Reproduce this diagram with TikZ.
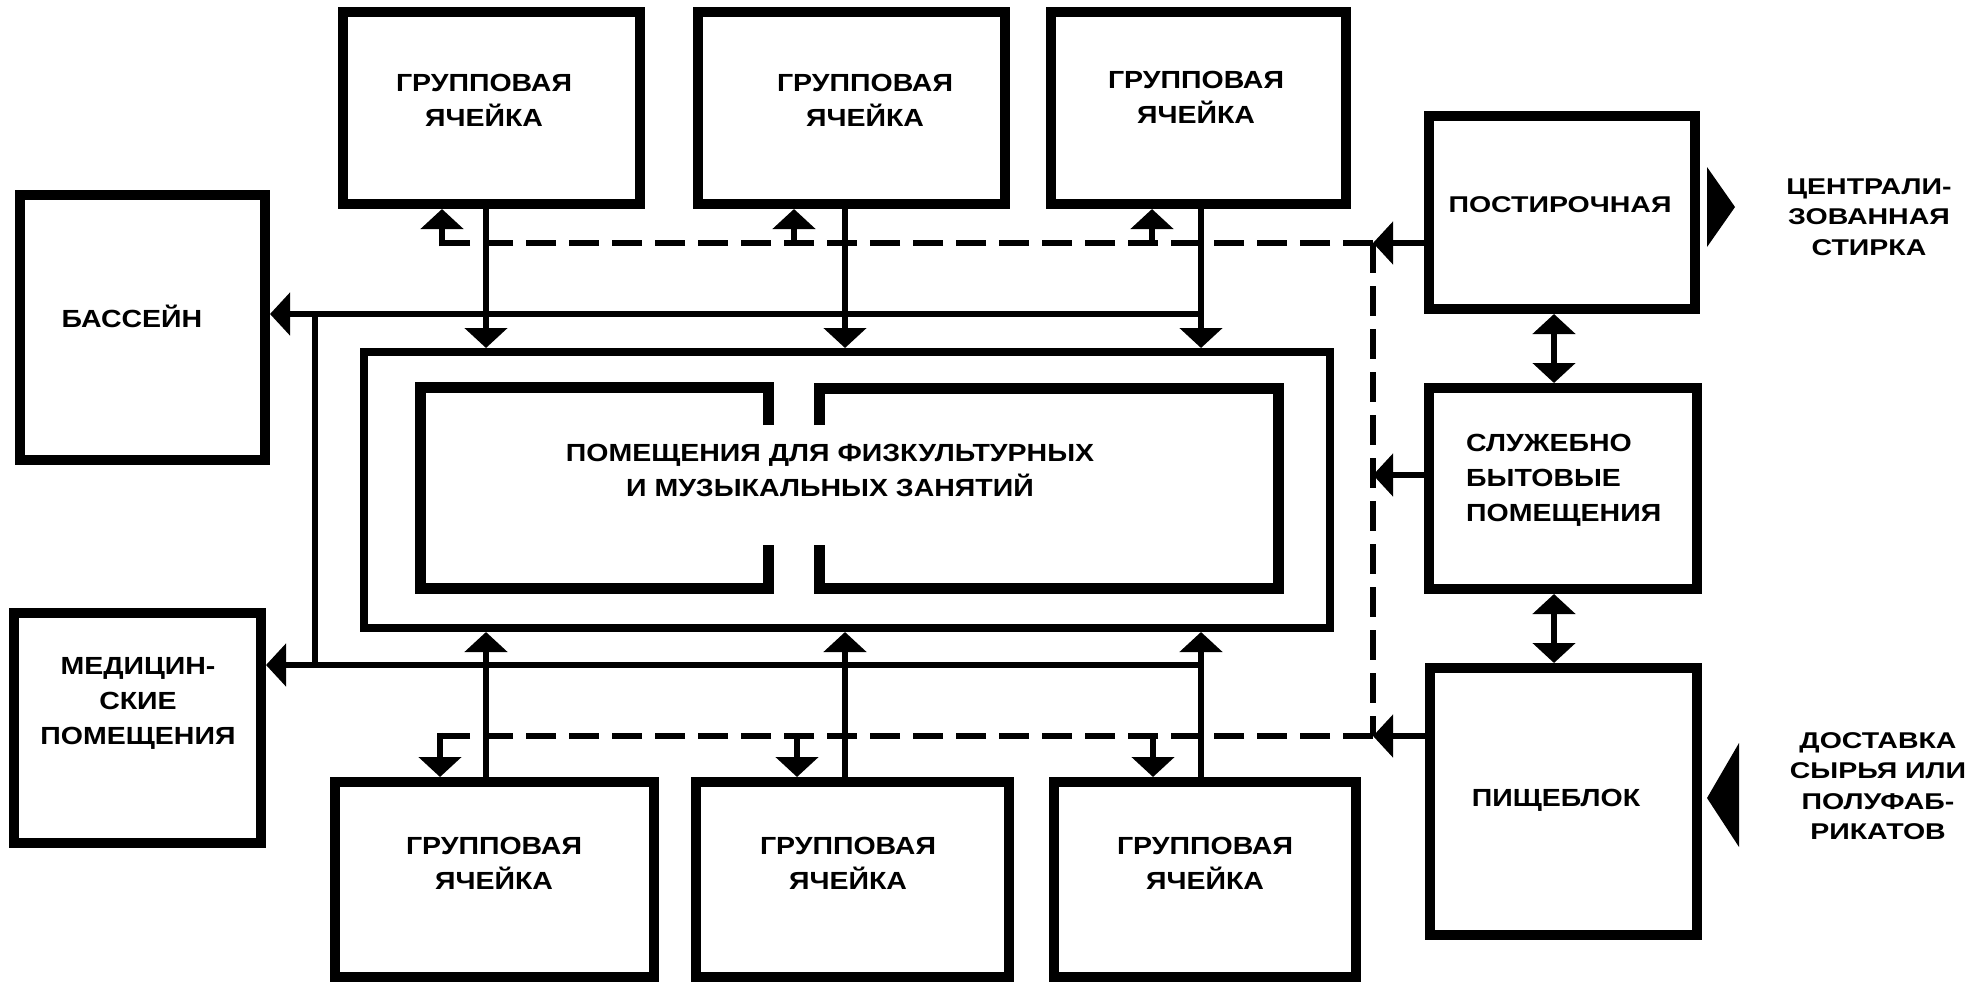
\documentclass[tikz,border=0pt]{standalone}
\usepackage{fontspec}
\setmainfont{Liberation Sans}
\usepackage{graphicx}
\usetikzlibrary{arrows.meta,calc}
\newcommand\sqz[1]{\scalebox{1}[0.87]{#1}}
\newcommand\sqa[1]{\scalebox{1}[0.8]{#1}}
\begin{document}
\begin{tikzpicture}[x=1pt,y=-1pt,
  box/.style={draw,line width=10pt,inner sep=0pt,rectangle},
  lbl/.style={font=\bfseries\fontsize{28.5}{35}\selectfont,align=center,inner sep=0pt},
  note/.style={font=\bfseries\fontsize{28.5}{30.5}\selectfont,align=center,inner sep=0pt},
  conn/.style={line width=6.5pt},
  dconn/.style={line width=6.5pt,dash pattern=on 30pt off 13pt},
  roomwall/.style={line width=11pt,line join=miter},
  arrowend/.style={-{Triangle[length=20pt,width=42pt]}},
  arrowboth/.style={{Triangle[length=20pt,width=42pt]}-{Triangle[length=20pt,width=42pt]}}
]
\useasboundingbox (0,0) rectangle (1975,985);
\fill[white] (0,0) rectangle (1975,985);

% helper coordinates
\coordinate (v1) at (486,0);
\coordinate (v2) at (845,0);
\coordinate (v3) at (1201,0);
\coordinate (s1) at (442,0);
\coordinate (s2) at (794,0);
\coordinate (s3) at (1152,0);
\coordinate (r1) at (440,0);
\coordinate (r2) at (797,0);
\coordinate (r3) at (1153,0);
\coordinate (du) at (0,243);
\coordinate (dl) at (0,736);
\coordinate (dv) at (1373,0);
\coordinate (hu) at (0,314);
\coordinate (hl) at (0,665);
\coordinate (hv) at (315,0);
\coordinate (ms) at (0,475);
\coordinate (rx) at (1554,0);

% boxes
\node[box,minimum width=297pt,minimum height=192pt] (t1) at (491.5,108) {};
\node[box,minimum width=307pt,minimum height=192pt] (t2) at (851.5,108) {};
\node[box,minimum width=295pt,minimum height=192pt] (t3) at (1198.5,108) {};
\node[box,minimum width=319pt,minimum height=195pt] (b1) at (494.5,879.5) {};
\node[box,minimum width=313pt,minimum height=195pt] (b2) at (852.5,879.5) {};
\node[box,minimum width=302pt,minimum height=195pt] (b3) at (1205,879.5) {};
\node[box,minimum width=245pt,minimum height=265pt] (bas) at (142.5,327.5) {};
\node[box,minimum width=247pt,minimum height=230pt] (med) at (137.5,728) {};
\node[box,line width=8pt,minimum width=966pt,minimum height=276pt] (outer) at (847,490) {};
\node[box,minimum width=266pt,minimum height=193pt] (post) at (1562,212.5) {};
\node[box,minimum width=268pt,minimum height=201pt] (sl) at (1563,488.5) {};
\node[box,minimum width=267pt,minimum height=267pt] (pis) at (1563.5,801.5) {};

% rooms inside the hall
\draw[roomwall] (768,425) -- (768,387) -- (420,387) -- (420,588) -- (768,588) -- (768,545);
\draw[roomwall] (819,425) -- (819,388) -- (1278,388) -- (1278,588) -- (819,588) -- (819,545);

% texts
\node[lbl] (t1t) at (484,100) {\sqz{ГРУППОВАЯ}\\\sqz{ЯЧЕЙКА}};
\node[lbl] (t2t) at (865,100) {\sqz{ГРУППОВАЯ}\\\sqz{ЯЧЕЙКА}};
\node[lbl] (t3t) at (1196,97) {\sqz{ГРУППОВАЯ}\\\sqz{ЯЧЕЙКА}};
\node[lbl] (b1t) at (494,863) {\sqz{ГРУППОВАЯ}\\\sqz{ЯЧЕЙКА}};
\node[lbl] (b2t) at (848,863) {\sqz{ГРУППОВАЯ}\\\sqz{ЯЧЕЙКА}};
\node[lbl] (b3t) at (1205,863) {\sqz{ГРУППОВАЯ}\\\sqz{ЯЧЕЙКА}};
\node[lbl] (bast) at (132,316) {\sqz{БАССЕЙН}};
\node[lbl] (medt) at (138,703) {\sqz{МЕДИЦИН-}\\\sqz{СКИЕ}\\\sqz{ПОМЕЩЕНИЯ}};
\node[lbl] (innt) at (830,470) {\sqz{ПОМЕЩЕНИЯ ДЛЯ ФИЗКУЛЬТУРНЫХ}\\\sqz{И МУЗЫКАЛЬНЫХ ЗАНЯТИЙ}};
\node[lbl] (postt) at (1560,205) {\sqa{ПОСТИРОЧНАЯ}};
\node[lbl,align=left,anchor=west] (slt) at (1466,480) {\sqz{СЛУЖЕБНО}\\\sqz{БЫТОВЫЕ}\\\sqz{ПОМЕЩЕНИЯ}};
\node[lbl] (pist) at (1556,800) {\sqz{ПИЩЕБЛОК}};
\node[note] (cst) at (1869,217) {\sqa{ЦЕНТРАЛИ-}\\\sqa{ЗОВАННАЯ}\\\sqa{СТИРКА}};
\node[note] (dst) at (1878,786) {\sqa{ДОСТАВКА}\\\sqa{СЫРЬЯ ИЛИ}\\\sqa{ПОЛУФАБ-}\\\sqa{РИКАТОВ}};

% solid connectors between cells and hall
\draw[conn,arrowend] (t1.south -| v1) -- (outer.north -| v1);
\draw[conn,arrowend] (t2.south -| v2) -- (outer.north -| v2);
\draw[conn,arrowend] (t3.south -| v3) -- (outer.north -| v3);
\draw[conn,arrowend] (b1.north -| v1) -- (outer.south -| v1);
\draw[conn,arrowend] (b2.north -| v2) -- (outer.south -| v2);
\draw[conn,arrowend] (b3.north -| v3) -- (outer.south -| v3);

% corridors to pool and medical rooms
\draw[conn,arrowend] (v3 |- hu) -- (bas.east |- hu);
\draw[conn,arrowend] (v3 |- hl) -- (med.east |- hl);
\draw[conn] (hv |- hu) -- (hv |- hl);

% dashed service lines
\draw[dconn] (dv |- du) -- (s1 |- du);
\draw[dconn] (dv |- du) -- (dv |- dl);
\draw[dconn] (dv |- dl) -- (r1 |- dl);
\draw[conn,arrowend,shorten <=-3.25pt] (s1 |- du) -- (s1 |- t1.south);
\draw[conn,arrowend] (s2 |- du) -- (s2 |- t2.south);
\draw[conn,arrowend] (s3 |- du) -- (s3 |- t3.south);
\draw[conn,arrowend,shorten <=-3.25pt] (r1 |- dl) -- (r1 |- b1.north);
\draw[conn,arrowend] (r2 |- dl) -- (r2 |- b2.north);
\draw[conn,arrowend] (r3 |- dl) -- (r3 |- b3.north);

% service block connectors
\draw[conn,arrowend] (post.west |- du) -- (dv |- du);
\draw[conn,arrowend] (sl.west |- ms) -- (dv |- ms);
\draw[conn,arrowend] (pis.west |- dl) -- (dv |- dl);
\draw[conn,arrowboth] (post.south -| rx) -- (sl.north -| rx);
\draw[conn,arrowboth] (sl.south -| rx) -- (pis.north -| rx);

% outside flows
\fill (1707,167) -- (1735,207) -- (1707,247) -- cycle;
\fill (1739,743) -- (1707,798) -- (1739,847) -- cycle;
\end{tikzpicture}
\end{document}
